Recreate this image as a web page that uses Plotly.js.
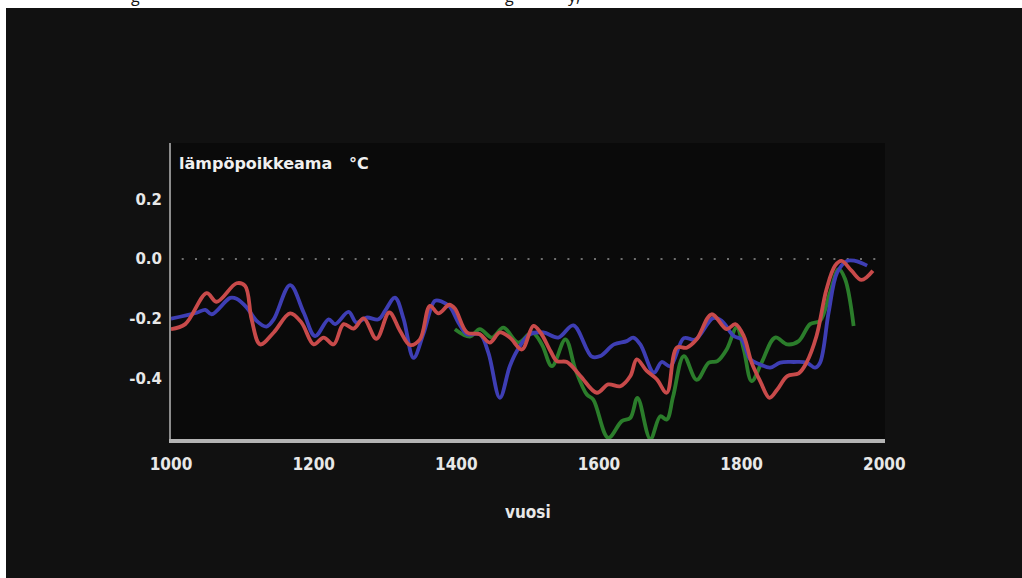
<!DOCTYPE html>
<html>
<head>
<meta charset="utf-8">
<script src="https://cdn.plot.ly/plotly-3.0.1.min.js"></script>
<style>
  html, body { margin:0; padding:0; background:#ffffff; width:1022px; height:578px; overflow:hidden; }
  #topstrip { position:absolute; left:0; top:0; width:1022px; height:8px; overflow:hidden; }
  #topstrip text { font-family:'Open Sans','DejaVu Sans',sans-serif; font-size:16px; fill:#111; }
  #chart { position:absolute; left:6px; top:8px; width:1016px; height:570px; }
</style>
</head>
<body>
<svg id="topstrip" width="1022" height="8">
  <text x="131" y="1.5">g</text>
  <text x="505" y="1.5">g</text>
  <text x="568" y="1.5">y,</text>
</svg>
<div id="chart"></div>
<script>
// ---- data ----
const blueYears = [1000,1036,1048,1057,1083,1092,1106,1120,1134,1144,1167,1186,1202,1221,1230,1249,1260,1274,1291,1300,1314,1326,1340,1354,1370,1380,1391,1403,1415,1433,1445,1461,1475,1485,1503,1522,1543,1564,1590,1602,1621,1639,1648,1658,1677,1688,1700,1719,1735,1760,1772,1789,1800,1812,1826,1840,1854,1873,1891,1903,1910,1922,1934,1948,1959,1976];
const blueVals  = [-0.200,-0.180,-0.170,-0.185,-0.130,-0.133,-0.162,-0.207,-0.226,-0.202,-0.087,-0.179,-0.258,-0.202,-0.218,-0.177,-0.213,-0.196,-0.202,-0.174,-0.129,-0.200,-0.331,-0.250,-0.140,-0.143,-0.160,-0.213,-0.252,-0.252,-0.314,-0.465,-0.359,-0.308,-0.252,-0.246,-0.263,-0.222,-0.327,-0.325,-0.286,-0.275,-0.263,-0.286,-0.381,-0.345,-0.359,-0.265,-0.270,-0.198,-0.207,-0.258,-0.269,-0.336,-0.353,-0.364,-0.347,-0.345,-0.347,-0.364,-0.347,-0.179,-0.045,-0.006,-0.006,-0.022];

const redYears = [1000,1020,1050,1064,1092,1104,1113,1125,1144,1167,1183,1200,1214,1228,1242,1256,1270,1288,1306,1321,1335,1349,1363,1375,1390,1398,1415,1433,1447,1461,1475,1492,1508,1518,1532,1541,1555,1574,1597,1613,1630,1644,1653,1667,1681,1695,1709,1723,1737,1758,1779,1791,1803,1814,1826,1839,1850,1864,1880,1891,1905,1919,1931,1940,1954,1968,1984];
const redVals  = [-0.235,-0.218,-0.114,-0.143,-0.081,-0.090,-0.202,-0.286,-0.246,-0.182,-0.213,-0.286,-0.263,-0.286,-0.218,-0.233,-0.199,-0.267,-0.179,-0.240,-0.288,-0.269,-0.157,-0.182,-0.153,-0.166,-0.246,-0.252,-0.280,-0.246,-0.263,-0.303,-0.224,-0.246,-0.308,-0.342,-0.345,-0.392,-0.448,-0.420,-0.426,-0.392,-0.336,-0.375,-0.403,-0.448,-0.297,-0.297,-0.269,-0.185,-0.235,-0.218,-0.258,-0.347,-0.409,-0.465,-0.437,-0.392,-0.383,-0.347,-0.258,-0.101,-0.022,-0.006,-0.039,-0.070,-0.039];

const greenYears = [1398,1419,1433,1450,1466,1487,1506,1520,1534,1553,1567,1583,1592,1613,1632,1644,1654,1672,1686,1695,1704,1719,1737,1754,1766,1779,1793,1803,1814,1828,1847,1864,1880,1896,1910,1924,1936,1945,1957];
const greenVals  = [-0.235,-0.260,-0.235,-0.263,-0.230,-0.280,-0.246,-0.286,-0.359,-0.269,-0.370,-0.454,-0.471,-0.599,-0.543,-0.532,-0.465,-0.603,-0.527,-0.538,-0.460,-0.325,-0.405,-0.347,-0.342,-0.303,-0.230,-0.303,-0.409,-0.347,-0.263,-0.286,-0.275,-0.218,-0.207,-0.112,-0.034,-0.067,-0.224];

const xTickVals = [1000,1200,1400,1600,1800,2000];
const xTickText = ['1000','1200','1400','1600','1800','2000'];
const yTickVals = [0.2,0.0,-0.2,-0.4];
const yTickText = ['0.2','0.0','-0.2','-0.4'];
const yTitle = 'lämpöpoikkeama\u00a0\u00a0\u00a0°C';
const xTitle = 'vuosi';

// ---- chart ----
const lineStyle = (c) => ({color:c, width:3.8, shape:'spline', smoothing:1});
const traces = [
  {x:greenYears, y:greenVals, mode:'lines', line:lineStyle('#2b7d2b'), hoverinfo:'skip'},
  {x:blueYears,  y:blueVals,  mode:'lines', line:lineStyle('#3e3eb4'), hoverinfo:'skip'},
  {x:redYears,   y:redVals,   mode:'lines', line:lineStyle('#c84a4a'), hoverinfo:'skip'}
];

const layout = {
  width:1016, height:570,
  margin:{l:165, r:137, t:135, b:139},
  paper_bgcolor:'#111111',
  plot_bgcolor:'#0a0a0a',
  showlegend:false,
  xaxis:{
    range:[1000,2001], showgrid:false, zeroline:false,
    showline:true, linecolor:'#b4b4b4', linewidth:3.5,
    tickmode:'array', tickvals:xTickVals, ticktext:xTickText,
    ticks:'outside', ticklen:7, tickcolor:'rgba(0,0,0,0)',
    tickfont:{family:'DejaVu Sans Condensed, DejaVu Sans', size:17, color:'#e8e8e8', weight:'bold', stretch:'condensed'}
  },
  yaxis:{
    range:[-0.603,0.389], showgrid:false, zeroline:false,
    showline:true, linecolor:'#8c8c8c', linewidth:2,
    tickmode:'array', tickvals:yTickVals, ticktext:yTickText,
    ticks:'outside', ticklen:4, tickcolor:'rgba(0,0,0,0)',
    tickfont:{family:'DejaVu Sans', size:15, color:'#e8e8e8', weight:'bold'}
  },
  shapes:[
    {type:'line', xref:'x', yref:'y', x0:1015, x1:2001, y0:0, y1:0,
     line:{color:'#6e6e6e', width:2, dash:'2px,11.3px'}, layer:'below'}
  ],
  annotations:[
    {text:yTitle, xref:'paper', yref:'paper', x:0.009, y:0.93, xanchor:'left', yanchor:'middle',
     showarrow:false, font:{family:'DejaVu Sans', size:16, color:'#f0f0f0', weight:'bold'}},
    {text:xTitle, xref:'paper', yref:'paper', x:0.5, y:-0.245, xanchor:'center', yanchor:'middle',
     showarrow:false, font:{family:'DejaVu Sans Condensed, DejaVu Sans', size:17, color:'#e8e8e8', weight:'bold', stretch:'condensed'}}
  ]
};

Plotly.newPlot('chart', traces, layout, {staticPlot:true, displayModeBar:false});
</script>
</body>
</html>
